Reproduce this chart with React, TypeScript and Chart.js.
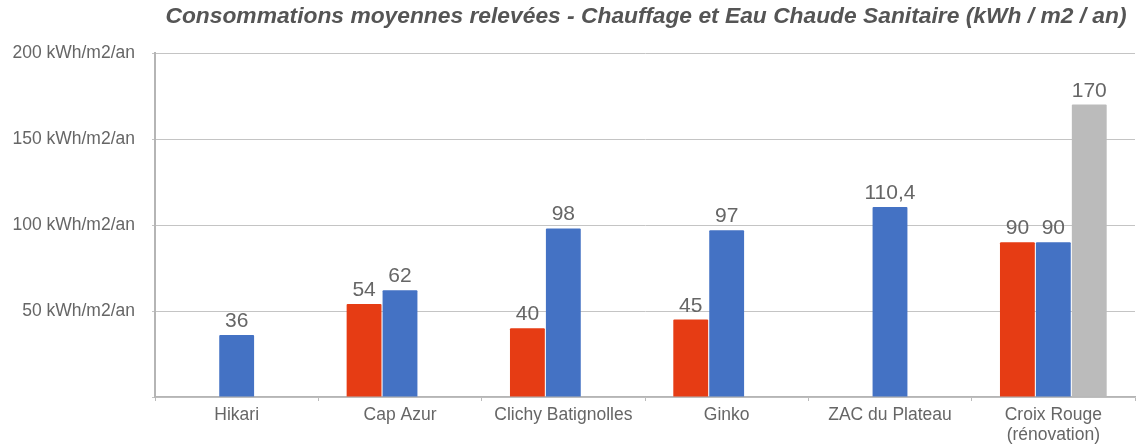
import React, { useEffect, useRef } from "react";
import { Chart, registerables } from "chart.js";

Chart.register(...registerables);

const categories: (string | string[])[] = [
  "Hikari",
  "Cap Azur",
  "Clichy Batignolles",
  "Ginko",
  "ZAC du Plateau",
  ["Croix Rouge", "(rénovation)"],
];
const redValues: (number | null)[] = [null, 54, 40, 45, null, 90];
const blueValues: (number | null)[] = [36, 62, 98, 97, 110.4, 90];
const grayValues: (number | null)[] = [null, null, null, null, null, 170];
const yTicks: number[] = [0, 50, 100, 150, 200];
const titleText =
  "Consommations moyennes relevées - Chauffage et Eau Chaude Sanitaire (kWh / m2 / an)";
const unit = " kWh/m2/an";

const FONT = "'Liberation Sans', Arial, Helvetica, sans-serif";

const titlePlugin = {
  id: "centeredTitle",
  afterDraw(chart: any) {
    const { ctx, chartArea } = chart;
    ctx.save();
    ctx.font = `italic bold 22.8px ${FONT}`;
    ctx.fillStyle = "#555555";
    ctx.textAlign = "center";
    ctx.textBaseline = "middle";
    ctx.fillText(titleText, (chartArea.left + chartArea.right) / 2 + 1, 17);
    ctx.restore();
  },
};

const valueLabelPlugin = {
  id: "valueLabels",
  afterDatasetsDraw(chart: any) {
    const { ctx } = chart;
    ctx.save();
    ctx.font = `21px ${FONT}`;
    ctx.fillStyle = "#666666";
    ctx.textAlign = "center";
    ctx.textBaseline = "alphabetic";
    chart.data.datasets.forEach((ds: any, di: number) => {
      const meta = chart.getDatasetMeta(di);
      meta.data.forEach((bar: any, i: number) => {
        const v = ds.data[i];
        if (v === null || v === undefined) return;
        const txt = String(v).replace(".", ",");
        ctx.fillText(txt, bar.x, bar.y - 8);
      });
    });
    ctx.restore();
  },
};

export default function App() {
  const ref = useRef<HTMLCanvasElement | null>(null);

  useEffect(() => {
    if (!ref.current) return;
    const chart = new Chart(ref.current, {
      type: "bar",
      data: {
        labels: categories,
        datasets: [
          {
            label: "Red",
            data: redValues,
            backgroundColor: "#E63C14",
            categoryPercentage: 0.66,
            barPercentage: 0.97,
            borderRadius: 1,
          },
          {
            label: "Blue",
            data: blueValues,
            backgroundColor: "#4472C4",
            categoryPercentage: 0.66,
            barPercentage: 0.97,
            borderRadius: 1,
          },
          {
            label: "Gray",
            data: grayValues,
            backgroundColor: "#BBBBBB",
            categoryPercentage: 0.66,
            barPercentage: 0.97,
            borderRadius: 1,
          },
        ],
      },
      options: {
        animation: false,
        responsive: false,
        maintainAspectRatio: false,
        layout: { padding: { left: 0, right: 3, top: 53, bottom: 0 } },
        plugins: {
          legend: { display: false },
          title: { display: false },
          tooltip: { enabled: false },
        },
        scales: {
          x: {
            grid: {
              display: true,
              drawOnChartArea: false,
              drawTicks: true,
              tickLength: 4,
              color: "#bbbbbb",
              offset: true,
            },
            border: { display: true, color: "#b5b5b5", width: 1.5 },
            ticks: {
              color: "#666666",
              padding: 4,
              font: { family: FONT, size: 17.5, lineHeight: 1.15 },
              maxRotation: 0,
              autoSkip: false,
            },
            afterFit(scale: any) {
              scale.height = 49;
            },
          },
          y: {
            min: yTicks[0],
            max: yTicks[yTicks.length - 1],
            afterBuildTicks(scale: any) {
              scale.ticks = yTicks.map((v) => ({ value: v }));
            },
            grid: {
              color: "#c4c4c4",
              lineWidth: 1,
              drawTicks: true,
              tickLength: 3,
            },
            border: { display: true, color: "#b5b5b5", width: 2 },
            ticks: {
              color: "#666666",
              padding: 17,
              font: { family: FONT, size: 17.5 },
              callback: (v: any) => (Number(v) === 0 ? "" : `${v}${unit}`),
            },
            afterFit(scale: any) {
              scale.width = 155;
            },
          },
        },
      },
      plugins: [titlePlugin, valueLabelPlugin],
    });
    return () => chart.destroy();
  }, []);

  return (
    <div style={{ position: "fixed", left: 0, top: 0, width: 1138, height: 446, background: "#fff" }}>
      <canvas ref={ref} width={1138} height={446} style={{ width: 1138, height: 446, display: "block" }} />
    </div>
  );
}
